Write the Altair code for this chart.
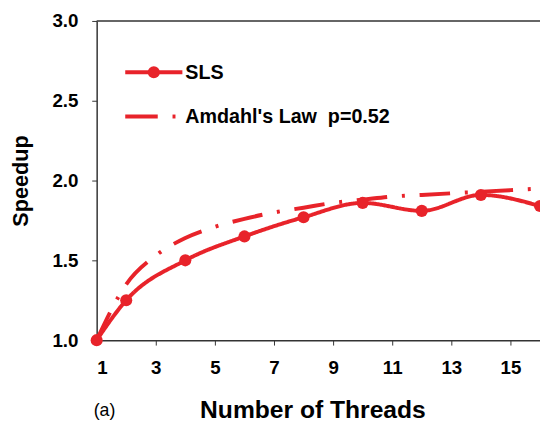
import altair as alt
import pandas as pd

# Data
series_names = ["SLS", "Amdahl's Law\u00a0\u00a0p=0.52"]
sls_threads = [1, 2, 4, 6, 8, 10, 12, 14, 16]
sls_speedup = [1.00, 1.25, 1.50, 1.65, 1.77, 1.86, 1.81, 1.91, 1.84]
amd_threads = [1, 2, 3, 4, 5, 6, 7, 8, 9, 10, 11, 12, 13, 14, 15, 16]
amd_speedup = [1.00, 1.35, 1.53, 1.64, 1.71, 1.76, 1.80, 1.83, 1.86, 1.88,
               1.90, 1.91, 1.92, 1.93, 1.94, 1.95]
x_ticks = [1, 3, 5, 7, 9, 11, 13, 15]
y_ticks = [1.0, 1.5, 2.0, 2.5, 3.0]

RED = "#e8232a"
FONT = "Liberation Sans"

sls = pd.DataFrame({"threads": sls_threads, "speedup": sls_speedup, "series": series_names[0]})
amd = pd.DataFrame({"threads": amd_threads, "speedup": amd_speedup, "series": series_names[1]})
lines_df = pd.concat([amd, sls], ignore_index=True)

xscale = alt.Scale(domain=[1, 16], nice=False, zero=False)
yscale = alt.Scale(domain=[1, 3], nice=False, zero=False)

x_axis = alt.Axis(
    values=x_ticks, title="Number of Threads", grid=False,
    labelFont=FONT, labelFontWeight="bold", labelFontSize=19, labelColor="black",
    labelPadding=14, tickSize=5, tickColor="#333", domainColor="#333", domainWidth=1.5,
    titleFont=FONT, titleFontWeight="bold", titleFontSize=25, titleColor="black",
    titleX=219, titleY=79, titleBaseline="alphabetic", titleAnchor="middle", titleAlign="center",
)
y_axis = alt.Axis(
    values=y_ticks, format=".1f", title="Speedup", grid=False,
    labelFont=FONT, labelFontWeight="bold", labelFontSize=19, labelColor="black",
    labelPadding=14, tickSize=5, tickColor="#333", domainColor="#333", domainWidth=1.5,
    titleFont=FONT, titleFontWeight="bold", titleFontSize=22, titleColor="black",
    titleX=-77, titleY=162, titleAngle=270, titleBaseline="middle", titleAlign="center",
)

dash = alt.StrokeDash(
    "series:N",
    scale=alt.Scale(domain=series_names, range=[[1, 0], [31, 15, 3, 15]]),
    legend=None,
)

lines = alt.Chart(lines_df).mark_line(strokeWidth=4, interpolate="monotone", color=RED).encode(
    x=alt.X("threads:Q", scale=xscale, axis=x_axis),
    y=alt.Y("speedup:Q", scale=yscale, axis=y_axis),
    detail="series:N",
    strokeDash=dash,
    order="threads:Q",
)

points = alt.Chart(sls).mark_point(filled=True, size=150, opacity=1, color=RED).encode(
    x=alt.X("threads:Q", scale=xscale),
    y=alt.Y("speedup:Q", scale=yscale),
)

# ---- legend (drawn as a key inside the plot) ----
leg_df = pd.DataFrame({"label": series_names})
leg_base = alt.Chart(leg_df)

sls_key_line = leg_base.transform_filter(alt.datum.label == series_names[0]).mark_rule(
    color=RED, strokeWidth=4
).encode(x=alt.value(29), x2=alt.value(87), y=alt.value(52))
sls_key_dot = leg_base.transform_filter(alt.datum.label == series_names[0]).mark_point(
    filled=True, size=150, opacity=1, color=RED
).encode(x=alt.value(58), y=alt.value(52))
amd_key_dash = leg_base.transform_filter(alt.datum.label == series_names[1]).mark_rule(
    color=RED, strokeWidth=4
).encode(x=alt.value(29), x2=alt.value(62), y=alt.value(97))
amd_key_dot = leg_base.transform_filter(alt.datum.label == series_names[1]).mark_rule(
    color=RED, strokeWidth=4
).encode(x=alt.value(77), x2=alt.value(80), y=alt.value(97))
key_text_sls = leg_base.transform_filter(alt.datum.label == series_names[0]).mark_text(
    font=FONT, fontWeight="bold", fontSize=20, align="left", baseline="middle", color="black"
).encode(text="label:N", x=alt.value(90), y=alt.value(53))
key_text_amd = leg_base.transform_filter(alt.datum.label == series_names[1]).mark_text(
    font=FONT, fontWeight="bold", fontSize=20, align="left", baseline="middle", color="black"
).encode(text="label:N", x=alt.value(90), y=alt.value(98))

top_rule = alt.Chart(pd.DataFrame({"v": [3.0]})).mark_rule(color="#333", strokeWidth=1.5).encode(
    y=alt.Y("v:Q", scale=yscale),
)

label_a = alt.Chart(pd.DataFrame({"t": ["(a)"]})).mark_text(
    font=FONT, fontSize=18, align="left", baseline="alphabetic", color="black"
).encode(text="t:N", x=alt.value(-3), y=alt.value(419 - 18))

chart = alt.layer(
    top_rule, lines, points,
    sls_key_line, sls_key_dot, amd_key_dash, amd_key_dot, key_text_sls, key_text_amd,
    label_a,
).properties(
    width=450, height=324,
    autosize=alt.AutoSizeParams(type="none"),
    padding={"left": 90, "top": 10, "right": 0, "bottom": 84},
    background="white",
).configure_view(stroke=None)

chart.save("out.html", embed_options={"renderer": "svg", "actions": False})
